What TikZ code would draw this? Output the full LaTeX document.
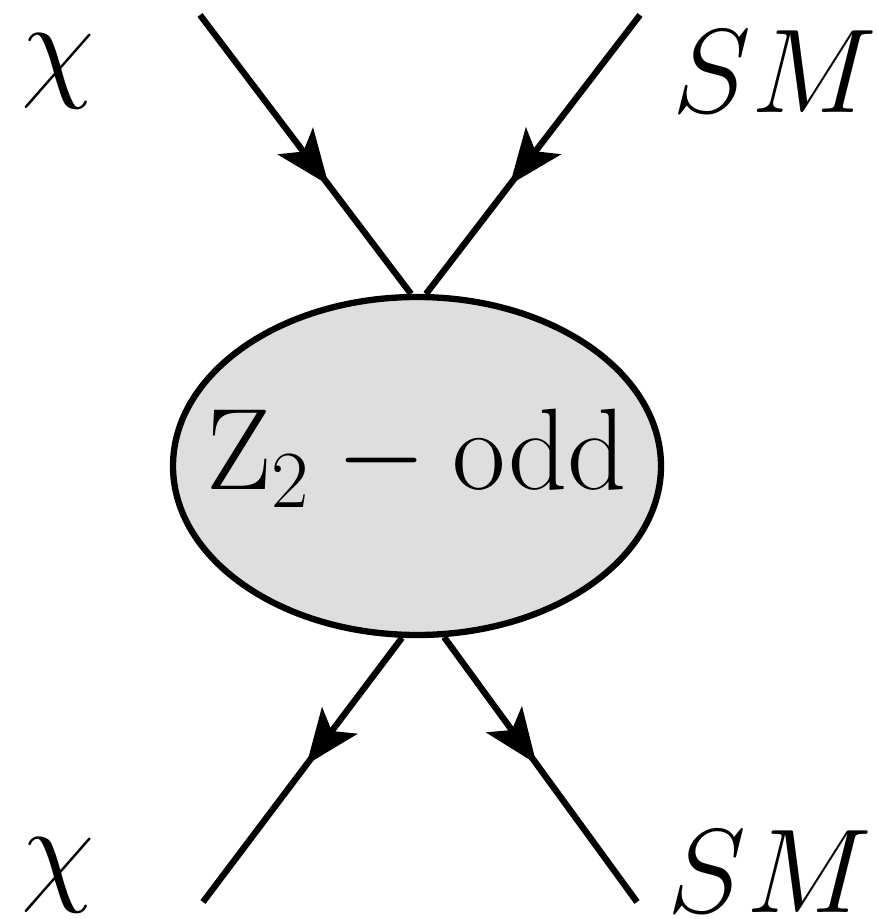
\RequirePackage{fix-cm}
\documentclass[tikz,border=0pt]{standalone}
\usepackage{amsmath}
\usepackage{tikz}
\usetikzlibrary{shapes.geometric,arrows.meta,decorations.markings}

\begin{document}
\begin{tikzpicture}[
    big/.style={font=\fontsize{34}{40}\selectfont, inner sep=0pt},
    blob/.style={draw, ellipse, line width=1.8pt, fill=black!13,
                 inner xsep=-0.6cm, inner ysep=0pt, text depth=0.33cm,
                 minimum width=4.88cm, minimum height=3.38cm,
                 font=\fontsize{33}{40}\selectfont},
    leg/.style={line width=1.8pt, postaction={decorate},
                decoration={markings, mark=at position #1 with
                {\arrow{Stealth[length=0.55cm,width=0.44cm,inset=0.13cm]}}}},
    leg/.default=0.6
]
    \useasboundingbox (0,0) rectangle (8.77,-9.19);
    \node[blob] (vtx) at (4.17,-4.66) {$\mathrm{Z_2 - odd}$};

    \coordinate (xin)   at (2.00,-0.15);
    \coordinate (smin)  at (6.40,-0.15);
    \coordinate (xout)  at (2.03,-9.02);
    \coordinate (smout) at (6.37,-9.02);

    \node[big] (xtop) at (0.58,-0.71) {$\chi$};
    \node[big] (smtop) at (7.75,-0.72) {$SM$};
    \node[big] (xbot) at (0.58,-8.75) {$\chi$};
    \node[big] (smbot) at (7.70,-8.72) {$SM$};

    \draw[leg=0.61] (xin) -- (vtx.92);
    \draw[leg=0.61] (smin) -- (vtx.87);
    \draw[leg=0.48] (vtx.265) -- (xout);
    \draw[leg=0.48] (vtx.279) -- (smout);
\end{tikzpicture}
\end{document}
